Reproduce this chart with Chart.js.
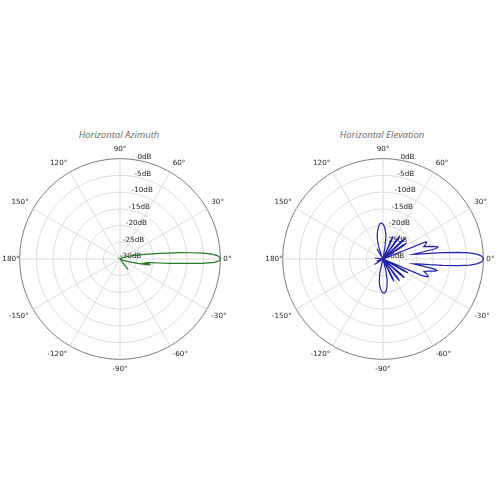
<!DOCTYPE html>
<html>
<head>
<meta charset="utf-8">
<script src="https://cdn.jsdelivr.net/npm/chart.js@4"></script>
<style>
  html, body { margin: 0; padding: 0; background: #fff; }
  body { width: 500px; height: 500px; overflow: hidden; position: relative; }
  .title {
    position: absolute; top: 128px; width: 160px; text-align: center;
    font-family: "Open Sans", sans-serif; font-style: italic; font-size: 9.5px; color: #666;
  }
  .plot { position: absolute; top: 145px; width: 280px; height: 228px; }
</style>
</head>
<body>
<div class="title" style="left:39px">Horizontal Azimuth</div>
<div class="title" style="left:302px">Horizontal Elevation</div>
<div class="plot" style="left:-20px"><canvas id="azimuth"></canvas></div>
<div class="plot" style="left:243px"><canvas id="elevation"></canvas></div>
<script>
// angles in degrees (0 = right, counter-clockwise), gain in dB
const azAngles = [30, 20, 14, 10, 8, 7, 6, 5, 4, 3, 2, 1, 0, -1, -2, -3, -4, -5, -6, -7, -8, -9, -10, -11, -12, -14, -17, -22, -30, -45, -52, -60];
const azGain   = [-29.3, -27.8, -25.5, -21.5, -18, -15.5, -12, -8.5, -5, -2.5, -0.9, -0.2, 0, -0.3, -1.8, -5.5, -11, -15, -18.5, -21, -22, -21.5, -22.5, -21.3, -22, -24.5, -27, -29, -30, -30, -26, -30];

const elAngles = [
  0, 1, 2, 3, 4, 5, 6, 7, 8, 9, 10, 11, 12, 13, 15, 17, 19, 21, 22, 23,
  31, 33, 34, 35, 37, 40, 42, 43, 44, 46, 51, 53, 54, 55, 57, 63, 65, 66, 67, 69,
  78, 81, 83, 86, 89, 92, 95, 98, 101, 104, 107, 110, 114, 118, 121, 124,
  170, 173, 176, -165, -162, -159, -149, -146, -143,
  -106, -103, -100, -97, -94, -91, -88, -85, -82, -79, -76, -73,
  -67, -65, -64, -63, -61, -56, -54, -53, -52, -50, -44, -42, -41, -40, -38, -32, -30, -29, -28, -26,
  -25, -23, -22, -21, -19, -17, -15, -13, -12, -11, -10, -9, -8, -7, -6, -5, -4, -3, -2, -1
];
const elGain = [
  0, -0.2, -0.8, -2, -4, -7.5, -12, -16, -19.5, -20.8, -18, -14, -13.2, -13.5, -15.5, -17.3, -16.5, -16, -16.3, -30,
  -30, -23, -21.5, -23, -30, -30, -22.5, -21, -22.5, -30, -30, -23, -21.4, -23, -30, -30, -24, -22.6, -24, -30,
  -30, -26, -22.8, -21, -19.8, -19.2, -19.4, -20.3, -21.5, -22.8, -24.5, -26.5, -29, -30, -26.5, -30,
  -30, -27.5, -30, -30, -28, -30, -30, -27, -30,
  -30, -26, -23.5, -22, -20.8, -20, -19.8, -20.3, -21.5, -23.5, -26.5, -30,
  -30, -24, -22.5, -24, -30, -30, -23.3, -21.8, -23.3, -30, -30, -23, -21.5, -23, -30, -30, -23, -21.5, -23, -30,
  -30, -17.5, -15.7, -15.5, -16.2, -17.2, -16, -14, -13.5, -14.5, -18.5, -20.8, -19.5, -16, -12, -7.5, -4, -2, -0.8, -0.2
];

const angleTicks = [0, 30, 60, 90, 120, 150, 180, -30, -60, -90, -120, -150];
const dbMin = -30, dbMax = 0, dbStep = 5;

// one category per degree, starting at 90 (top) and running clockwise
const categories = Array.from({ length: 360 }, (_, i) => {
  let a = 90 - i;
  if (a <= -180) a += 360;
  return a;
});

function toSeries(angles, gains) {
  const arr = new Array(360).fill(null);
  angles.forEach((a, k) => {
    const i = (((90 - a) % 360) + 360) % 360;
    arr[i] = gains[k];
  });
  return arr;
}

const dbLabels = {
  id: "dbLabels",
  beforeDatasetsDraw(chart) {
    const r = chart.scales.r;
    const ctx = chart.ctx;
    const idx = categories.indexOf(80);
    ctx.save();
    ctx.font = '7.2px "DejaVu Sans"';
    ctx.fillStyle = "#222";
    ctx.textAlign = "left";
    ctx.textBaseline = "bottom";
    r.ticks.forEach((t) => {
      const p = r.getPointPositionForValue(idx, t.value);
      ctx.fillText(t.value + "dB", p.x, p.y + 1);
    });
    ctx.restore();
  },
};

function labelPadding(c) {
  const a = categories[c.index];
  if (a === 180) return 0;
  if (a === 0) return 3;
  return 5;
}

function makeChart(id, data, color) {
  new Chart(document.getElementById(id), {
    type: "radar",
    data: {
      labels: categories,
      datasets: [
        {
          data: data,
          borderColor: color,
          borderWidth: 1.2,
          fill: false,
          spanGaps: true,
          pointRadius: 0,
          pointHoverRadius: 0,
        },
      ],
    },
    options: {
      responsive: true,
      maintainAspectRatio: false,
      animation: false,
      events: [],
      plugins: { legend: { display: false }, tooltip: { enabled: false } },
      scales: {
        r: {
          min: dbMin,
          max: dbMax,
          beginAtZero: false,
          ticks: { stepSize: dbStep, display: false },
          grid: {
            circular: true,
            color: (c) => (c.tick && c.tick.value === dbMax ? "#7a7a7a" : "#dcdcdc"),
            lineWidth: 1,
          },
          angleLines: {
            color: (c) => (angleTicks.includes(categories[c.index]) ? "#dcdcdc" : "rgba(0,0,0,0)"),
            lineWidth: (c) => (angleTicks.includes(categories[c.index]) ? 1 : 0),
          },
          pointLabels: {
            color: "#222",
            padding: labelPadding,
            font: (c) => ({ family: "DejaVu Sans", size: angleTicks.includes(categories[c.index]) ? 7.2 : 1 }),
            callback: (label) => (angleTicks.includes(label) ? label + "°" : ""),
          },
        },
      },
    },
    plugins: [dbLabels],
  });
}

makeChart("azimuth", toSeries(azAngles, azGain), "#237a23");
makeChart("elevation", toSeries(elAngles, elGain), "#2323a8");
</script>
</body>
</html>
